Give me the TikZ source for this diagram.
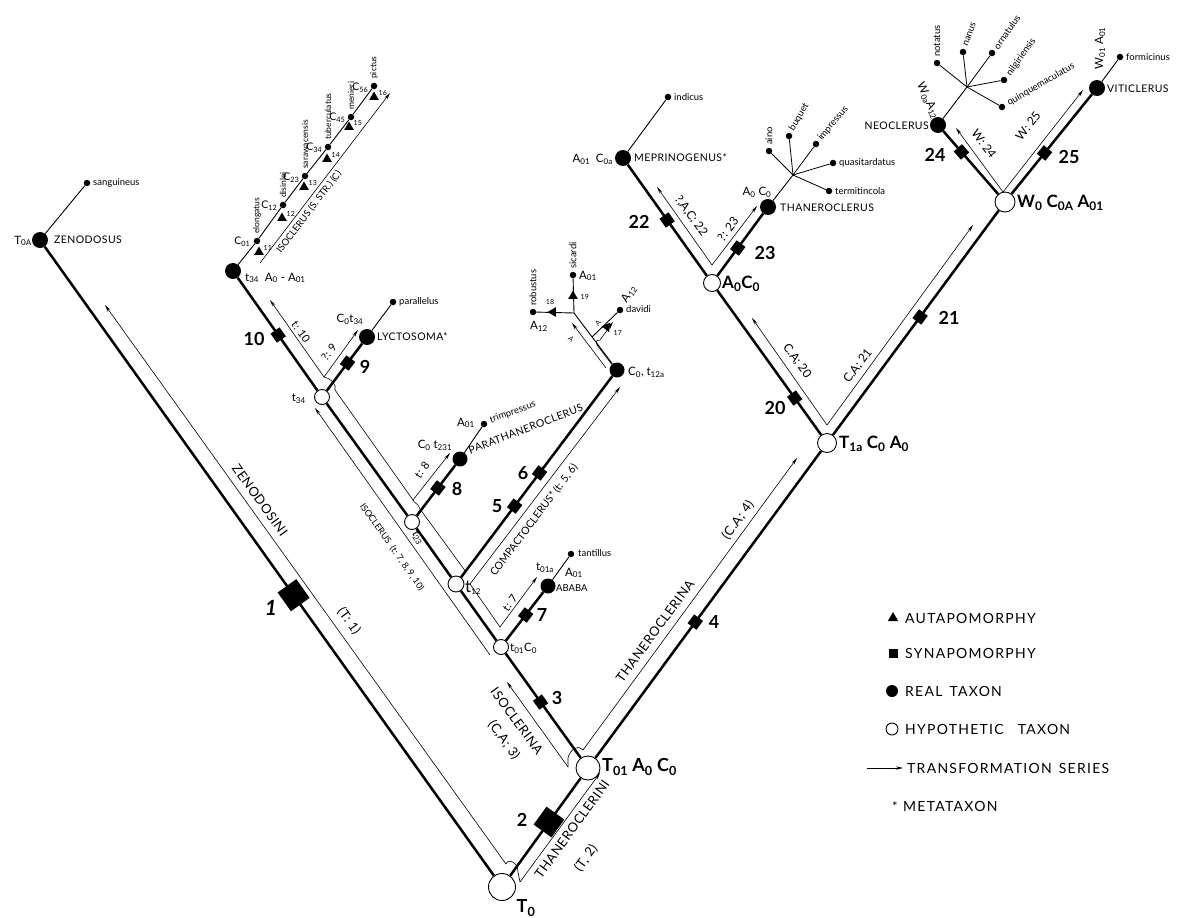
\documentclass[tikz,border=0pt]{standalone}
\usepackage{fontspec}
\setmainfont{Lato}
\usetikzlibrary{arrows.meta,shapes.geometric}
\newcommand\lsub[1]{\textsubscript{#1}}
\tikzset{
 br/.style={line width=2.5pt},
 sl/.style={line width=0.9pt},
 tl/.style={line width=0.6pt},
 ta/.style={line width=0.6pt,-{Stealth[length=7pt,width=3.2pt]}},
 real/.style={circle,fill=black,inner sep=0pt,minimum size=15pt},
 hypo/.style={circle,draw,fill=white,line width=0.9pt,inner sep=0pt},
 sp/.style={circle,fill=black,inner sep=0pt,minimum size=6.5pt},
 syn/.style={rectangle,fill=black,inner sep=0pt,minimum size=11pt,sloped},
 aut/.style={regular polygon,regular polygon sides=3,fill=black,inner sep=0pt,minimum size=12pt},
 lab/.style={font=\fontsize{11.5}{12}\selectfont,inner sep=1pt},
 labc/.style={font=\fontsize{10.5}{11}\selectfont,inner sep=0.5pt},
 capl/.style={font=\fontsize{10.5}{11}\selectfont\addfontfeature{LetterSpace=4},inner sep=1pt},
 spn/.style={font=\fontsize{9.5}{10}\selectfont,inner sep=1pt},
 spc/.style={font=\fontsize{8.5}{9}\selectfont,inner sep=1pt},
 num/.style={font=\fontsize{18}{18}\selectfont\bfseries,inner sep=0pt},
 bnum/.style={font=\fontsize{21}{21}\selectfont\bfseries,inner sep=0pt},
 big/.style={font=\fontsize{17}{17}\selectfont\bfseries,inner sep=1pt},
 band/.style={font=\fontsize{13}{14}\selectfont\addfontfeature{LetterSpace=4},inner sep=1pt},
 bands/.style={font=\fontsize{12}{13}\selectfont,inner sep=1pt},
 tny/.style={font=\fontsize{7}{7}\selectfont,inner sep=0.5pt},
 leg/.style={font=\fontsize{14}{15}\selectfont\addfontfeature{LetterSpace=9},anchor=west,inner sep=0pt},
}
\begin{document}
\begin{tikzpicture}[x=1pt,y=-1pt]
\useasboundingbox (0,0) rectangle (1183,918);
% ---------- thin transformation series (drawn first) ----------
% Zenodosini / Thaneroclerini
\coordinate (zA) at (105,305); \coordinate (zB) at (506,864);
\coordinate (zC) at (518,872); \coordinate (zD) at (520,882);
\coordinate (thA) at (600,773);
\draw[ta] (zB) -- (zA);
\draw[tl] (zB) .. controls (508,858) and (518,862) .. (zC) -- (zD);
\draw[ta] (zD) -- (thA);
% Isoclerina / Thaneroclerina
\coordinate (icA) at (507,682); \coordinate (icB) at (568,767);
\coordinate (icC) at (568,758); \coordinate (icD) at (583,750);
\coordinate (tnA) at (797,458);
\draw[ta] (icB) -- (icA);
\draw[tl] (icB) -- (icC) .. controls (570,748) and (580,745) .. (icD);
\draw[ta] (icD) -- (tnA);
% T1a
\coordinate (v20) at (827,425); \coordinate (a20) at (752,318); \coordinate (a21) at (973,225);
\draw[ta] (v20) -- (a20); \draw[ta] (v20) -- (a21);
% A0C0
\coordinate (v22) at (712,265); \coordinate (a22) at (657,187); \coordinate (a23) at (757,206);
\draw[ta] (v22) -- (a22); \draw[ta] (v22) -- (a23);
% W0
\coordinate (v24) at (1003,192); \coordinate (a24) at (956,128); \coordinate (a25) at (1083,90);
\draw[ta] (v24) -- (a24); \draw[ta] (v24) -- (a25);
% Isoclerus outer
\coordinate (ioB) at (490,655); \coordinate (ioA) at (315,408);
\draw[ta] (ioB) -- (ioA);
% t01 V and Compactoclerus
\coordinate (v7) at (500,627); \coordinate (a7) at (537,577); \coordinate (k12) at (470,584); \coordinate (a56) at (620,387);
\draw[ta] (k12) -- (v7) -- (a7);
\draw[ta] (k12) -- (a56);
% t12 inner / t23 V
\coordinate (p2a) at (466,572); \coordinate (p2b) at (420,509);
\draw[tl] (p2a) -- (p2b) .. controls (418,503) and (414,503) .. (413,500);
\coordinate (v8) at (413,500); \coordinate (a8) at (450,453); \coordinate (p3) at (335,390);
\draw[ta] (v8) -- (a8); \draw[tl] (v8) -- (p3);
% t34 V
\coordinate (v9) at (324,377); \coordinate (a9) at (358,330); \coordinate (a10) at (270,300);
\draw[tl] (p3) .. controls (337,384) and (330,378) .. (v9);
\draw[ta] (v9) -- (a9); \draw[ta] (v9) -- (a10);
% Isoclerus s.str.
\coordinate (isB) at (260,263); \coordinate (isA) at (390,93);
\draw[ta] (isB) -- (isA);
% ---------- nodes ----------
\node[hypo,minimum size=27pt] (T0) at (502,887) {};
\node[hypo,minimum size=24pt] (T01) at (588,768) {};
\node[hypo,minimum size=19pt] (T1a) at (827,443) {};
\node[hypo,minimum size=17pt] (A0C0) at (712,283) {};
\node[hypo,minimum size=20pt] (W0) at (1005,202) {};
\node[hypo,minimum size=15pt] (t01) at (501,647) {};
\node[hypo,minimum size=16pt] (t12) at (456,584) {};
\node[hypo,minimum size=15pt] (t23) at (412,522) {};
\node[hypo,minimum size=15pt] (t34) at (322,397) {};
\node[real,minimum size=16pt] (Zen) at (40,240) {};
\node[real,minimum size=16pt] (Iso) at (233,271) {};
\node[real,minimum size=16pt] (Lyc) at (367,337) {};
\node[real] (Par) at (460,459) {};
\node[real] (Aba) at (548,586) {};
\node[real] (Ct12) at (617,370) {};
\node[real,minimum size=16pt] (Mep) at (623,158) {};
\node[real,minimum size=16pt] (Tha) at (768,207) {};
\node[real,minimum size=16pt] (Neo) at (938,125) {};
\node[real,minimum size=16pt] (Vit) at (1097,88) {};
% ---------- thick branches ----------
\draw[br] (T0) -- (Zen);
\draw[br] (T0) -- (T01);
\draw[br] (T01) -- (T1a);
\draw[br] (T1a) -- (W0);
\draw[br] (W0) -- (Vit);
\draw[br] (W0) -- (Neo);
\draw[br] (T1a) -- (A0C0);
\draw[br] (A0C0) -- (Mep);
\draw[br] (A0C0) -- (Tha);
\draw[br] (T01) -- (t01);
\draw[br] (t01) -- (Aba);
\draw[br] (t01) -- (t12);
\draw[br] (t12) -- (Ct12);
\draw[br] (t12) -- (t23);
\draw[br] (t23) -- (Par);
\draw[br] (t23) -- (t34);
\draw[br] (t34) -- (Lyc);
\draw[br] (t34) -- (Iso);
% ---------- synapomorphies ----------
\path (T0.center) -- (Zen.center) node[syn,minimum size=23pt,pos=0.451] (s1) {};
\path (T0.center) -- (T01.center) node[syn,minimum size=22pt,pos=0.546] (s2) {};
\path (T01.center) -- (t01.center) node[syn,pos=0.545] (s3) {};
\path (T01.center) -- (T1a.center) node[syn,pos=0.449] (s4) {};
\path (t12.center) -- (Ct12.center) node[syn,pos=0.364] (s5) {} node[syn,pos=0.519] (s6) {};
\path (t01.center) -- (Aba.center) node[syn,pos=0.525] (s7) {};
\path (t23.center) -- (Par.center) node[syn,pos=0.54] (s8) {};
\path (t34.center) -- (Lyc.center) node[syn,pos=0.567] (s9) {};
\path (t34.center) -- (Iso.center) node[syn,pos=0.492] (s10) {};
\path (T1a.center) -- (A0C0.center) node[syn,pos=0.281] (s20) {};
\path (T1a.center) -- (W0.center) node[syn,pos=0.523] (s21) {};
\path (A0C0.center) -- (Mep.center) node[syn,pos=0.504] (s22) {};
\path (A0C0.center) -- (Tha.center) node[syn,pos=0.46] (s23) {};
\path (W0.center) -- (Neo.center) node[syn,pos=0.65] (s24) {};
\path (W0.center) -- (Vit.center) node[syn,pos=0.43] (s25) {};
\node[bnum,font=\fontsize{21}{21}\selectfont\bfseries\itshape] at (271,608) {1};
\node[num] at (522,820) {2};
\node[num] at (557,698) {3};
\node[num] at (714,622) {4};
\node[num] at (497,506) {5};
\node[num] at (523,473) {6};
\node[num] at (542,615) {7};
\node[num] at (457,489) {8};
\node[num] at (365,367) {9};
\node[num] at (254,339) {10};
\node[num] at (775,408) {20};
\node[num] at (949,318) {21};
\node[num] at (639,222) {22};
\node[num] at (765,253) {23};
\node[num] at (935,155) {24};
\node[num] at (1069,157) {25};
% ---------- species ----------
\node[sp] (sang) at (87,183) {}; \draw[sl] (Zen) -- (sang);
\node[spn,anchor=west] at (92,183) {sanguineus};
\node[sp] (ind) at (668,97) {}; \draw[sl] (Mep) -- (ind);
\node[spn,anchor=west] at (673,97) {indicus};
\node[sp] (par) at (393,302) {}; \draw[sl] (Lyc) -- (par);
\node[spn,anchor=west] at (398,302) {parallelus};
\node[sp] (tri) at (484,424) {}; \draw[sl] (Par) -- (tri);
\node[spn,anchor=west,rotate=20] at (489,421) {trimpressus};
\node[sp] (tan) at (571,554) {}; \draw[sl] (Aba) -- (tan);
\node[spn,anchor=west] at (577,553) {tantillus};
\node[sp] (for) at (1120,57) {}; \draw[sl] (Vit) -- (for);
\node[spn,anchor=west] at (1125,57) {formicinus};
% Isoclerus chain
\node[sp] (elo) at (257,241) {};
\node[sp] (dis) at (283,205) {};
\node[sp] (sar) at (305,176) {};
\node[sp] (tub) at (328,147) {};
\node[sp] (men) at (351,117) {};
\node[sp] (pic) at (374,86) {};
\draw[sl] (Iso) -- (elo) -- (dis) -- (sar) -- (tub) -- (men) -- (pic);
\node[spc,anchor=west,rotate=90] at (257,235) {elongatus};
\node[spc,anchor=west,rotate=90] at (283,199) {disinlei};
\node[spc,anchor=west,rotate=90] at (305,170) {sarawacensis};
\node[spc,anchor=west,rotate=90] at (328,141) {tuberculatus};
\node[spc,anchor=west,rotate=90] at (351,111) {menieri};
\node[spc,anchor=west,rotate=90] at (374,80) {pictus};
\node[labc,anchor=east] at (251,242) {C\lsub{01}};
\node[labc,anchor=east] at (278,206) {C\lsub{12}};
\node[labc,anchor=east] at (300,178) {C\lsub{23}};
\node[labc,anchor=east] at (323,148) {C\lsub{34}};
\node[labc,anchor=east] at (346,118) {C\lsub{45}};
\node[labc,anchor=east] at (369,88) {C\lsub{56}};
\foreach \x/\y/\n in {259/252/11,282/218/12,304/187/13,327/159/14,349/127/15,374/97/16}{
  \node[aut,minimum size=11pt] (a\n) at (\x,\y) {};
  \node[tny,anchor=west] at (\x+4,\y-4) {\n};
}
% Thaneroclerus star
\coordinate (TJ) at (793,175); \draw[sl] (Tha) -- (TJ);
\node[sp] (aino) at (769,151) {}; \node[sp] (buq) at (789,136) {}; \node[sp] (imp) at (816,144) {};
\node[sp] (qua) at (833,163) {}; \node[sp] (ter) at (829,191) {};
\foreach \s in {aino,buq,imp,qua,ter} \draw[tl,line width=0.8pt] (TJ) -- (\s);
\node[spn,anchor=west,rotate=90] at (769,146) {aino};
\node[spn,anchor=west,rotate=60] at (791,131) {buquet};
\node[spn,anchor=west,rotate=50] at (819,140) {impressus};
\node[spn,anchor=west] at (838,163) {quasitardatus};
\node[spn,anchor=west] at (834,191) {termitincola};
% Neoclerus star
\coordinate (NJ) at (967,87); \draw[sl] (Neo) -- (NJ);
\node[sp] (not) at (937,63) {}; \node[sp] (nan) at (963,52) {}; \node[sp] (orn) at (992,53) {};
\node[sp] (nil) at (1004,80) {}; \node[sp] (qui) at (1002,107) {};
\foreach \s in {not,nan,orn,nil,qui} \draw[tl,line width=0.8pt] (NJ) -- (\s);
\node[spn,anchor=west,rotate=90] at (937,58) {notatus};
\node[spn,anchor=west,rotate=70] at (965,47) {nanus};
\node[spn,anchor=west,rotate=55] at (995,49) {ornatulus};
\node[spn,anchor=west,rotate=55] at (1008,76) {nilgiriensis};
\node[spn,anchor=west,rotate=30] at (1007,104) {quinquemaculatus};
% Compactoclerus group
\coordinate (J) at (574,313); \coordinate (D) at (592,337);
\draw[sl] (Ct12) -- (J);
\node[sp] (rob) at (533,312) {}; \node[sp] (sic) at (573,275) {}; \node[sp] (dav) at (620,310) {};
\draw[sl] (J) -- (rob); \draw[sl] (J) -- (sic); \draw[sl] (D) -- (dav);
\node[aut,minimum size=11pt,rotate=90] (a18) at (553,312) {};
\node[aut,minimum size=11pt] (a19) at (573,296) {};
\node[aut,minimum size=11pt,rotate=-37] (a17) at (607,327) {};
\node[tny] at (550,302) {18}; \node[tny,anchor=west] at (580,297) {19}; \node[tny,anchor=west] at (613,333) {17};
\draw[ta] (606,368) -- (572,323);
\draw[tl] (613,366) -- (597,345);
\draw[ta] (597,345) .. controls (595,341) and (598,339) .. (600,340) -- (613,322);
\node[tny,rotate=-40] at (571,339) {A}; \node[tny,rotate=50] at (598,323) {A};
\node[spn,anchor=west,rotate=90] at (533,307) {robustus};
\node[spn,anchor=west,rotate=90] at (573,270) {sicardi};
\node[spn,anchor=west] at (625,309) {davidi};
\node[lab] at (539,326) {A\lsub{12}};
\node[lab,anchor=west] at (578,276) {A\lsub{01}};
\node[lab,rotate=55] at (629,294) {A\lsub{12}};
% ---------- taxon labels ----------
\node[lab,anchor=east] at (33,241) {T\lsub{0A}};
\node[capl,anchor=west] at (53,240) {ZENODOSUS};
\node[lab,anchor=west] at (244,278) {t\lsub{34}\enspace A\lsub{0} - A\lsub{01}};
\node[lab] at (350,319) {C\lsub{0}t\lsub{34}};
\node[capl,anchor=west] at (376,337) {LYCTOSOMA*};
\node[lab] at (435,445) {C\lsub{0} t\lsub{231}};
\node[lab] at (466,423) {A\lsub{01}};
\node[capl,anchor=west,rotate=21] at (468,451) {PARATHANEROCLERUS};
\node[lab,anchor=west] at (627,372) {C\lsub{0}, t\lsub{12a}};
\node[capl,anchor=west,font=\fontsize{9.5}{10}\selectfont] at (555,588) {ABABA};
\node[lab] at (545,568) {t\lsub{01a}};
\node[lab] at (574,573) {A\lsub{01}};
\node[lab,anchor=west] at (509,648) {t\lsub{01}C\lsub{0}};
\node[lab,anchor=west] at (464,588) {{\fontsize{17}{17}\selectfont t}\lsub{12}};
\node[lab,rotate=-60] at (418,538) {t\lsub{23}};
\node[lab,anchor=east] at (307,399) {t\lsub{34}};
\node[lab,anchor=east] at (614,159) {A\lsub{01}\enspace C\lsub{0a}};
\node[capl,anchor=west] at (633,158) {MEPRINOGENUS*};
\node[lab] at (757,192) {A\lsub{0} C\lsub{0}};
\node[capl,anchor=west] at (779,208) {THANEROCLERUS};
\node[big,anchor=west] at (721,284) {A\lsub{0}C\lsub{0}};
\node[big,anchor=west] at (838,444) {T\lsub{1a} C\lsub{0} A\lsub{0}};
\node[big,anchor=west,font=\fontsize{18}{18}\selectfont\bfseries] at (601,767) {T\lsub{01} A\lsub{0} C\lsub{0}};
\node[big,font=\fontsize{18}{18}\selectfont\bfseries] at (526,908) {T\lsub{0}};
\node[big,anchor=west] at (1016,203) {W\lsub{0} C\lsub{0A} A\lsub{01}};
\node[capl,anchor=east] at (930,126) {NEOCLERUS};
\node[lab,rotate=-65] at (928,101) {W\lsub{0a}A\lsub{12}};
\node[capl,anchor=west] at (1106,89) {VITICLERUS};
\node[lab,rotate=90] at (1100,48) {W\lsub{01} A\lsub{01}};
% ---------- band labels ----------
\node[band,rotate=-54.3] at (260,500) {ZENODOSINI};
\node[band,rotate=-54.3] at (349,621) {(T: 1)};
\node[band,rotate=54] at (572,829) {THANEROCLERINI};
\node[band,rotate=54] at (586,858) {(T, 2)};
\node[band,rotate=-54] at (517,721) {ISOCLERINA};
\node[band,rotate=-54] at (504,740) {(C,A; 3)};
\node[band,rotate=53.7] at (655,631) {THANEROCLERINA};
\node[band,rotate=53.7] at (738,520) {(C.A; 4)};
\node[bands,rotate=-54] at (797,361) {C.A; 20};
\node[bands,rotate=53] at (858,366) {C.A; 21};
\node[bands,rotate=-54] at (691,216) {?,A,C; 22};
\node[bands,rotate=53] at (728,229) {?: 23};
\node[bands,rotate=-53] at (984,144) {W: 24};
\node[bands,rotate=52] at (1028,126) {W: 25};
\node[bands,rotate=-54.7,font=\fontsize{9}{9}\selectfont] at (392,547) {ISOCLERUS\enspace (t: 7, 8, 9, 10)};
\node[bands,rotate=53,font=\fontsize{10.5}{11}\selectfont] at (534,520) {COMPACTOCLERUS* (t: 5, 6)};
\node[bands,rotate=52.7,font=\fontsize{9.5}{10}\selectfont] at (309,212) {ISOCLERUS (S. STR.) (C)};
\node[bands,font=\fontsize{11}{11}\selectfont,rotate=53] at (510,603) {t: 7};
\node[bands,font=\fontsize{11}{11}\selectfont,rotate=53] at (422,470) {t: 8};
\node[bands,font=\fontsize{11}{11}\selectfont,rotate=53] at (329,352) {?: 9};
\node[bands,font=\fontsize{11}{11}\selectfont,rotate=-54] at (301,332) {t: 10};
% ---------- legend ----------
\node[aut,minimum size=12pt] (lA) at (893,618) {};
\node[leg] at (905,618) {AUTAPOMORPHY};
\node[rectangle,fill=black,minimum size=9pt,inner sep=0pt] (lS) at (893,653) {};
\node[leg] at (905,653) {SYNAPOMORPHY};
\node[real,minimum size=12pt] (lR) at (892,691) {};
\node[leg] at (905,691) {REAL\enspace TAXON};
\node[hypo,minimum size=12pt] (lH) at (892,729) {};
\node[leg] at (905,729) {HYPOTHETIC\enspace\enspace TAXON};
\coordinate (lT1) at (867,768); \coordinate (lT2) at (903,768);
\draw[ta] (lT1) -- (lT2);
\node[leg] at (907,768) {TRANSFORMATION\enspace SERIES};
\node[font=\fontsize{13}{14}\selectfont,inner sep=0pt] (lM) at (895,807) {*};
\node[leg] at (903,806) {METATAXON};
\end{tikzpicture}
\end{document}
